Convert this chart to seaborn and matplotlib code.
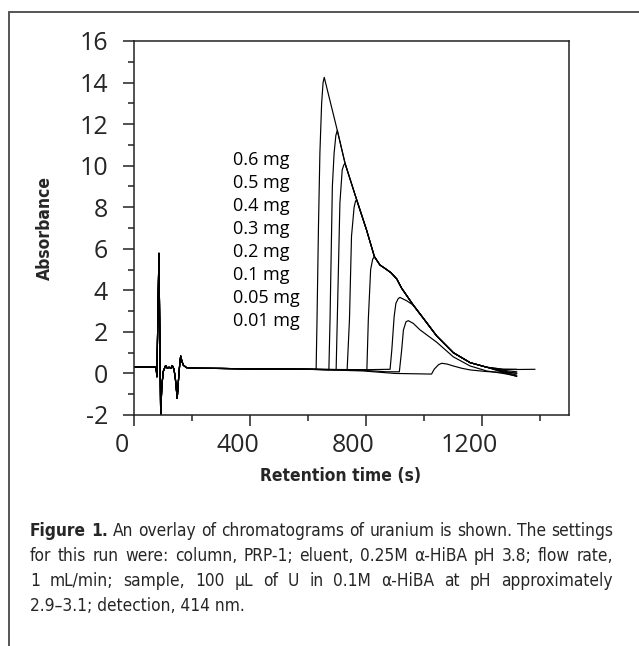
import matplotlib
matplotlib.use("Agg")
import matplotlib.pyplot as plt
import matplotlib.transforms as mtransforms
from matplotlib import font_manager
from matplotlib.lines import Line2D
from matplotlib.ticker import MultipleLocator
import pandas as pd
import seaborn as sns

# ---------------------------------------------------------------- data
masses = ["0.6 mg", "0.5 mg", "0.4 mg", "0.3 mg", "0.2 mg", "0.1 mg", "0.05 mg", "0.01 mg"]

# injection disturbance and early baseline, common to every run (s, AU)
base_t = [0, 40, 76, 79, 82, 86, 92, 96, 101, 109, 115, 121, 127, 132, 138,
          143, 149, 154, 158, 161, 165, 170, 181, 221, 300, 400, 500, 600]
base_a = [0.30, 0.31, 0.30, -0.16, 2.5, 5.78, -2.0, -0.6, 0.1, 0.38, 0.25, 0.30,
          0.25, 0.38, 0.20, -0.30, -1.20, -0.20, 0.50, 0.84, 0.60, 0.40, 0.28,
          0.25, 0.24, 0.22, 0.21, 0.20]

# baseline drift and peak front of each run
front_t = [
    [600, 628, 631, 636, 641, 647, 652, 656],
    [600, 672, 676, 684, 690, 696, 701],
    [600, 697, 701, 710, 718, 724, 728],
    [600, 735, 743, 750, 759, 764, 768],
    [600, 803, 808, 816, 823, 829],
    [600, 800, 883, 889, 897, 903, 911, 917, 940],
    [600, 790, 870, 915, 923, 929, 938, 946, 963],
    [600, 790, 900, 1026, 1035, 1050, 1061],
]
front_a = [
    [0.20, 0.19, 2.5, 7.0, 10.6, 13.0, 14.0, 14.25],
    [0.20, 0.18, 2.6, 9.0, 10.6, 11.45, 11.7],
    [0.20, 0.18, 2.6, 8.2, 9.8, 10.05, 10.1],
    [0.20, 0.18, 2.6, 6.6, 8.0, 8.3, 8.35],
    [0.20, 0.17, 2.6, 5.0, 5.5, 5.62],
    [0.20, 0.18, 0.20, 1.13, 2.73, 3.37, 3.60, 3.66, 3.50],
    [0.20, 0.15, 0.08, 0.08, 1.13, 2.09, 2.49, 2.54, 2.41],
    [0.20, 0.12, 0.00, -0.03, 0.20, 0.42, 0.49],
]

# overloaded uranium band: common tailing edge
band_t = [656, 701, 728, 768, 802, 829, 848, 866, 886, 906, 923, 963, 998,
          1044, 1101, 1159, 1216]
band_a = [14.25, 11.7, 10.1, 8.35, 6.9, 5.62, 5.22, 5.05, 4.85, 4.55, 4.10,
          3.29, 2.65, 1.80, 1.00, 0.52, 0.30]
on_band = [True, True, True, True, True, True, False, False]

# end of each run
tail_t = [
    [1273, 1320, 1383],
    [1273, 1320],
    [1273, 1320],
    [1273, 1320],
    [1273, 1320],
    [1273, 1320],
    [986, 1044, 1101, 1159, 1216, 1273, 1320],
    [1080, 1101, 1130, 1159, 1216, 1273, 1320],
]
tail_a = [
    [0.20, 0.19, 0.20],
    [0.20, 0.20],
    [0.15, 0.08],
    [0.12, 0.00],
    [0.08, -0.08],
    [0.05, -0.15],
    [2.10, 1.50, 0.80, 0.36, 0.12, 0.00, -0.12],
    [0.45, 0.36, 0.25, 0.17, 0.09, 0.05, 0.02],
]

x_major = [0, 400, 800, 1200]
y_major = [16, 14, 12, 10, 8, 6, 4, 2, 0, -2]

caption_lines = [
    [("Figure", "bold"), ("1.", "bold"), ("An", "normal"), ("overlay", "normal"),
     ("of", "normal"), ("chromatograms", "normal"), ("of", "normal"),
     ("uranium", "normal"), ("is", "normal"), ("shown.", "normal"),
     ("The", "normal"), ("settings", "normal")],
    "for this run were: column, PRP-1; eluent, 0.25M \u03b1-HiBA pH 3.8; flow rate,",
    "1 mL/min; sample, 100 \u00b5L of U in 0.1M \u03b1-HiBA at pH approximately",
    "2.9\u20133.1; detection, 414 nm.",
]

# ---------------------------------------------------------------- table
rows = []
for i, m in enumerate(masses):
    t = list(base_t) + front_t[i][1:]
    a = list(base_a) + front_a[i][1:]
    if on_band[i]:
        last = t[-1]
        for bt, ba in zip(band_t, band_a):
            if bt > last:
                t.append(bt)
                a.append(ba)
    t += tail_t[i]
    a += tail_a[i]
    for k, (tt, aa) in enumerate(zip(t, a)):
        rows.append({"run": m, "order": k, "time": tt, "absorbance": aa})
df = pd.DataFrame(rows)

# ---------------------------------------------------------------- fonts
sns.set_style("ticks")
names = {f.name for f in font_manager.fontManager.ttflist}
NARROW = "Liberation Sans Narrow" if "Liberation Sans Narrow" in names else "DejaVu Sans"
STRETCH = "normal" if NARROW == "Liberation Sans Narrow" else "condensed"
plt.rcParams["font.family"] = ["Open Sans", "DejaVu Sans"]
plt.rcParams["axes.unicode_minus"] = False


def narrow(size, weight="normal"):
    return font_manager.FontProperties(family=[NARROW, "DejaVu Sans"], size=size,
                                       weight=weight, stretch=STRETCH)


# ---------------------------------------------------------------- figure
W, H = 639, 646
fig = plt.figure(figsize=(W / 100, H / 100), dpi=100)
fig.patch.set_facecolor("white")
ax = fig.add_axes([134 / W, 1 - 415 / H, 435 / W, 374 / H])

sns.lineplot(data=df, x="time", y="absorbance", units="run", estimator=None,
             sort=False, color="black", linewidth=0.85, ax=ax, legend=False)

ax.set_xlim(0, 1500)
ax.set_ylim(-2, 16)
ax.set_xticks(x_major)
ax.set_yticks(y_major)
ax.xaxis.set_minor_locator(MultipleLocator(200))
ax.yaxis.set_minor_locator(MultipleLocator(1))
ax.tick_params(which="major", direction="out", length=7.7, width=1.1,
               color="#222222", labelsize=18)
ax.tick_params(which="minor", direction="out", length=4.2, width=1.1, color="#222222")
ax.tick_params(axis="y", which="major", pad=11)
ax.tick_params(axis="x", which="major", pad=5)
for sp in ax.spines.values():
    sp.set_visible(True)
    sp.set_linewidth(1.1)
    sp.set_color("#222222")

shift = mtransforms.ScaledTranslation(-0.125, 0, fig.dpi_scale_trans)
for lab in ax.get_xticklabels():
    lab.set_transform(lab.get_transform() + shift)

ax.set_xlabel("Retention time (s)", fontproperties=narrow(12.5, "bold"))
ax.xaxis.set_label_coords((341 - 134) / 435, (415 - 476) / 374)
ax.xaxis.label.set_va("center")
ax.set_ylabel("Absorbance", fontproperties=narrow(12.5, "bold"))
ax.yaxis.set_label_coords((45 - 134) / 435, 0.5)
ax.yaxis.label.set_va("center")
ax.yaxis.label.set_ha("center")

# list of sample loadings
for i, m in enumerate(masses):
    ax.text(340, 10.27 - i * 1.107, m, fontsize=13, ha="left", va="center",
            color="black")

# frame around figure and caption
for xs, ys in [((9 / W, 1.0), (1 - 12 / H, 1 - 12 / H)),
               ((9 / W, 9 / W), (1 - 12 / H, 0.0))]:
    fig.add_artist(Line2D(xs, ys, transform=fig.transFigure, color="#555555",
                          linewidth=1.4))

# caption, justified between the margins
fig.canvas.draw()
renderer = fig.canvas.get_renderer()
left_px, right_px = 30, 613
baselines = [536, 561, 586, 611]
cap_size = 12.4
for li, line in enumerate(caption_lines):
    y = 1 - baselines[li] / H
    if li == len(caption_lines) - 1:
        fig.text(left_px / W, y, line, fontproperties=narrow(cap_size),
                 ha="left", va="baseline")
        continue
    if isinstance(line, str):
        tokens = [(w, "normal") for w in line.split(" ")]
    else:
        tokens = line
    texts = [fig.text(0, y, w, fontproperties=narrow(cap_size, wt), ha="left",
                      va="baseline") for w, wt in tokens]
    widths = [t.get_window_extent(renderer).width for t in texts]
    gap = (right_px - left_px - sum(widths)) / (len(texts) - 1)
    x = left_px
    for t, w in zip(texts, widths):
        t.set_x(x / W)
        x += w + gap

fig.savefig("out.png", dpi=100, facecolor="white")
